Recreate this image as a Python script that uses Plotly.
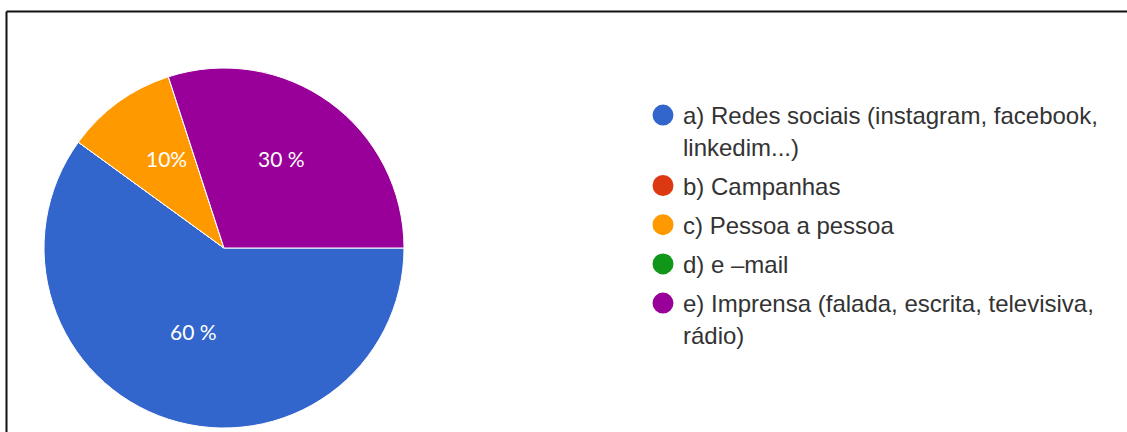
import math
import plotly.graph_objects as go

# Survey answers: share of respondents per channel
categories = [
    "a) Redes sociais (instagram, facebook,<br>linkedim...)",
    "b) Campanhas",
    "c) Pessoa a pessoa",
    "d) e –mail",
    "e) Imprensa (falada, escrita, televisiva,<br>rádio)",
]
values = [60, 0, 10, 0, 30]
slice_labels = ["60 %", "", "10%", "", "30 %"]
colors = ["#3366CC", "#DC3912", "#FF9900", "#109618", "#990099"]

W, H = 1127, 432
cx, cy, r = 224, 248, 180  # pie centre / radius in pixels (cy from top)
start_angle = 90           # first slice starts at 3 o'clock, runs clockwise
label_radius = 0.545       # slice labels sit at this fraction of the radius

fig = go.Figure()

fig.add_trace(go.Pie(
    labels=categories,
    values=values,
    textinfo="none",
    sort=False,
    direction="clockwise",
    rotation=start_angle,
    marker=dict(colors=colors, line=dict(color="white", width=1)),
    showlegend=False,
    hoverinfo="label+percent",
    domain=dict(x=[(cx - r) / W, (cx + r) / W],
                y=[(H - cy - r) / H, (H - cy + r) / H]),
))

# Percentage labels placed on each slice's bisector
total = sum(values)
acc = 0.0
for v, txt in zip(values, slice_labels):
    mid = start_angle + (acc + v / 2) / total * 360
    acc += v
    if not txt:
        continue
    a = math.radians(mid)
    px = cx + label_radius * r * math.sin(a)
    py = cy - label_radius * r * math.cos(a)
    fig.add_annotation(
        x=px / W, y=(H - py) / H, xref="paper", yref="paper",
        text=txt, showarrow=False, xanchor="center", yanchor="middle",
        yshift=10,
        font=dict(family="Lato, Open Sans, sans-serif", size=21, color="white"),
    )

# Legend entries with round markers
for i, (name, col) in enumerate(zip(categories, colors)):
    fig.add_trace(go.Scatter(
        x=[None], y=[None], mode="markers", name=name,
        legendgroup=f"g{i}",
        marker=dict(symbol="circle", size=16, color=col,
                    line=dict(color=col, width=5)),
        hoverinfo="skip",
    ))

# Frame around the chart
fig.add_shape(type="line", xref="paper", yref="paper",
              x0=6.5 / W, x1=1.0, y0=(H - 11.5) / H, y1=(H - 11.5) / H,
              line=dict(color="#111111", width=2))
fig.add_shape(type="line", xref="paper", yref="paper",
              x0=6.5 / W, x1=6.5 / W, y0=0.0, y1=(H - 11.5) / H,
              line=dict(color="#111111", width=2))

fig.update_layout(
    width=W, height=H,
    margin=dict(l=0, r=0, t=0, b=0),
    paper_bgcolor="white",
    plot_bgcolor="white",
    xaxis=dict(visible=False),
    yaxis=dict(visible=False),
    legend=dict(
        x=643 / W, y=(H - 93) / H, xanchor="left", yanchor="top",
        font=dict(family="Liberation Sans, Arial, sans-serif", size=24, color="#333333"),
        valign="top",
        tracegroupgap=5,
        bgcolor="rgba(0,0,0,0)",
        itemclick=False, itemdoubleclick=False,
    ),
)

fig.write_html("out.html")
